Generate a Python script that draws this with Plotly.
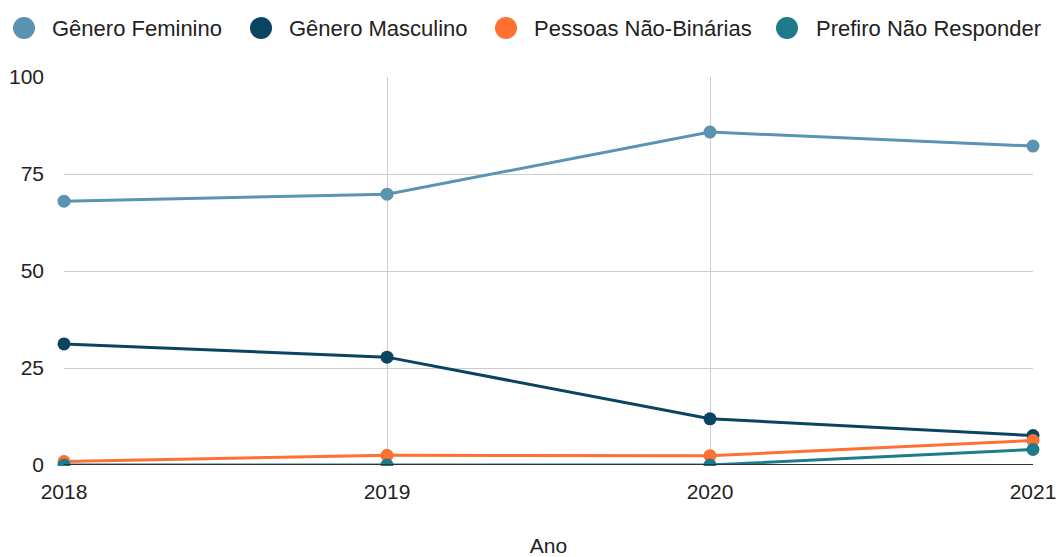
import plotly.graph_objects as go

anos = [2018, 2019, 2020, 2021]
feminino = [68.0, 69.8, 85.8, 82.2]
masculino = [31.2, 27.8, 11.9, 7.6]
nao_binarias = [0.9, 2.5, 2.4, 6.3]
prefiro = [0.0, 0.0, 0.0, 4.0]

nomes = ["Gênero Feminino", "Gênero Masculino", "Pessoas Não-Binárias", "Prefiro Não Responder"]
valores = [feminino, masculino, nao_binarias, prefiro]
cores = ["#5b93b3", "#0a4461", "#ff7033", "#1f7a8a"]

W, H = 1056, 557
L, R, T, B = 64, 23, 77, 92
pw, ph = W - L - R, H - T - B

def px_x(X):
    return (X - L) / pw

def px_y(Y):
    return (H - B - Y) / ph

fig = go.Figure()
for name, vals, color in zip(nomes, valores, cores):
    fig.add_trace(go.Scatter(
        x=anos, y=vals, name=name, mode="lines+markers",
        line=dict(color=color, width=3),
        marker=dict(color=color, size=13),
        cliponaxis=False, showlegend=False,
    ))

font = "Arial, 'Liberation Sans', sans-serif"
fig.update_layout(
    width=W, height=H,
    margin=dict(l=L, r=R, t=T, b=B, autoexpand=False),
    paper_bgcolor="white", plot_bgcolor="white",
    font=dict(family=font, size=21, color="#222222"),
    showlegend=False,
    xaxis=dict(
        range=[2018, 2021], tickvals=anos, ticktext=[str(a) for a in anos],
        showgrid=True, gridcolor="#cccccc", gridwidth=1,
        zeroline=False, showline=False, ticks="", ticklabelstandoff=12,
        ticklabeloverflow="allow",
        title=dict(text="Ano", font=dict(size=21), standoff=44),
    ),
    yaxis=dict(
        range=[0, 100], tickvals=[0, 25, 50, 75, 100],
        showgrid=True, gridcolor="#cccccc", gridwidth=1,
        zeroline=False, showline=False, ticks="", ticklabelstandoff=19,
        ticklabeloverflow="allow",
    ),
)
# mask below the baseline (markers at zero show only their upper half)
fig.add_shape(type="rect", xref="paper", yref="paper",
              x0=px_x(56), x1=px_x(1044), y0=px_y(475), y1=px_y(466),
              fillcolor="white", line=dict(width=0), layer="above")
fig.add_shape(type="line", xref="paper", yref="y", x0=0, x1=1, y0=0, y1=0,
              line=dict(color="#333333", width=2), layer="above")

# legend drawn manually (large circular keys as in the reference)
circ_x = [24, 261, 506, 787]
text_x = [50, 287, 532, 814]
leg_y = 28
for name, color, cx, tx in zip(nomes, cores, circ_x, text_x):
    fig.add_shape(type="circle", xref="paper", yref="paper",
                  xsizemode="pixel", ysizemode="pixel",
                  xanchor=px_x(cx), yanchor=px_y(leg_y),
                  x0=-11, x1=11, y0=-11, y1=11,
                  fillcolor=color, line=dict(width=0))
    fig.add_annotation(text=name, xref="paper", yref="paper",
                       x=px_x(tx), y=px_y(leg_y), xanchor="left", yanchor="middle",
                       showarrow=False, font=dict(size=22, color="#222222"))

fig.write_html("out.html", config={"displayModeBar": False},
               post_script="document.body.style.margin='0';document.body.style.overflow='hidden';")
